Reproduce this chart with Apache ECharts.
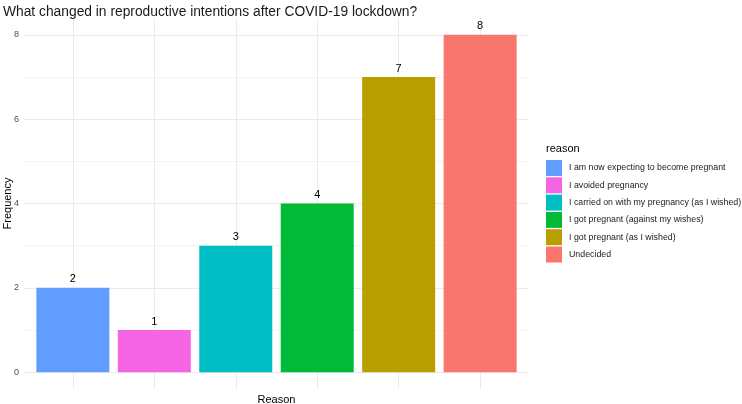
<!DOCTYPE html>
<html>
<head>
<meta charset="utf-8">
<script src="https://cdn.jsdelivr.net/npm/echarts@6/dist/echarts.min.js"></script>
<style>html,body{margin:0;padding:0;background:#fff;}#c{width:742px;height:404px;}</style>
</head>
<body>
<div id="c"></div>
<script>
const categories = [
  "I am now expecting to become pregnant",
  "I avoided pregnancy",
  "I carried on with my pregnancy (as I wished)",
  "I got pregnant (against my wishes)",
  "I got pregnant (as I wished)",
  "Undecided"
];
const frequencies = [2, 1, 3, 4, 7, 8];
const colors = ["#619CFF", "#F564E3", "#00BFC4", "#00BA38", "#B79F00", "#F8766D"];
const yTickLabels = [0, 2, 4, 6, 8];
const gridMajor = [0, 2, 4, 6, 8];
const gridMinor = [1, 3, 5, 7];

const chart = echarts.init(document.getElementById('c'), null, {renderer: 'canvas'});
const FONT = "'Liberation Sans', Arial, sans-serif";

const series = categories.map((name, i) => ({
  name: name,
  type: 'bar',
  stack: 'all',
  barWidth: 73,
  data: [[i + 1, frequencies[i]]],
  itemStyle: {color: colors[i]},
  label: {show: true, position: 'top', distance: 3, color: '#000', fontSize: 11, fontFamily: FONT, fontWeight: 'normal'},
  z: 3
}));
series.push({
  name: '__grid',
  type: 'line',
  data: [],
  silent: true,
  z: 1,
  markLine: {
    silent: true,
    z: 1,
    symbol: 'none',
    label: {show: false},
    animation: false,
    data: [
      ...gridMinor.map(v => ({yAxis: v, lineStyle: {color: '#f4f4f4', width: 1, type: 'solid'}})),
      ...gridMajor.map(v => ({yAxis: v, lineStyle: {color: '#ebebeb', width: 1, type: 'solid'}})),
      ...categories.map((c, i) => ({xAxis: i + 1, lineStyle: {color: '#ebebeb', width: 1, type: 'solid'}}))
    ]
  }
});

chart.setOption({
  animation: false,
  backgroundColor: '#fff',
  textStyle: {fontFamily: FONT},
  title: {
    text: 'What changed in reproductive intentions after COVID-19 lockdown?',
    left: -2, top: 0,
    textStyle: {fontSize: 13.8, fontWeight: 'normal', color: '#1a1a1a', fontFamily: FONT}
  },
  grid: {left: 24, right: 213, top: 18, bottom: 15, containLabel: false, outerBoundsMode: 'none'},
  xAxis: {
    type: 'value', min: 0.4, max: 6.6,
    name: 'Reason', nameLocation: 'middle', nameGap: 5,
    nameTextStyle: {color: '#000', fontSize: 11, fontFamily: FONT},
    axisLine: {show: false}, axisTick: {show: false}, axisLabel: {show: false},
    splitLine: {show: false}
  },
  yAxis: {
    type: 'value', min: -0.4, max: 8.4,
    name: 'Frequency', nameLocation: 'middle', nameGap: 11, nameRotate: 90,
    nameMoveOverlap: false,
    nameTextStyle: {color: '#000', fontSize: 11, fontFamily: FONT},
    axisLine: {show: false}, axisTick: {show: false},
    axisLabel: {customValues: yTickLabels, color: '#4d4d4d', fontSize: 9, margin: 5, fontFamily: FONT},
    splitLine: {show: false}
  },
  legend: {
    data: categories,
    orient: 'vertical',
    left: 541, top: 155,
    itemWidth: 16, itemHeight: 16, itemGap: 1.3,
    icon: 'rect',
    textStyle: {color: '#1a1a1a', fontSize: 8.8, fontFamily: FONT, padding: [0, 0, 0, 2]},
    selectedMode: false
  },
  graphic: [{
    type: 'text', left: 546, top: 143,
    style: {text: 'reason', fontSize: 11, fill: '#000', fontFamily: FONT}
  }],
  series: series
});
</script>
</body>
</html>
